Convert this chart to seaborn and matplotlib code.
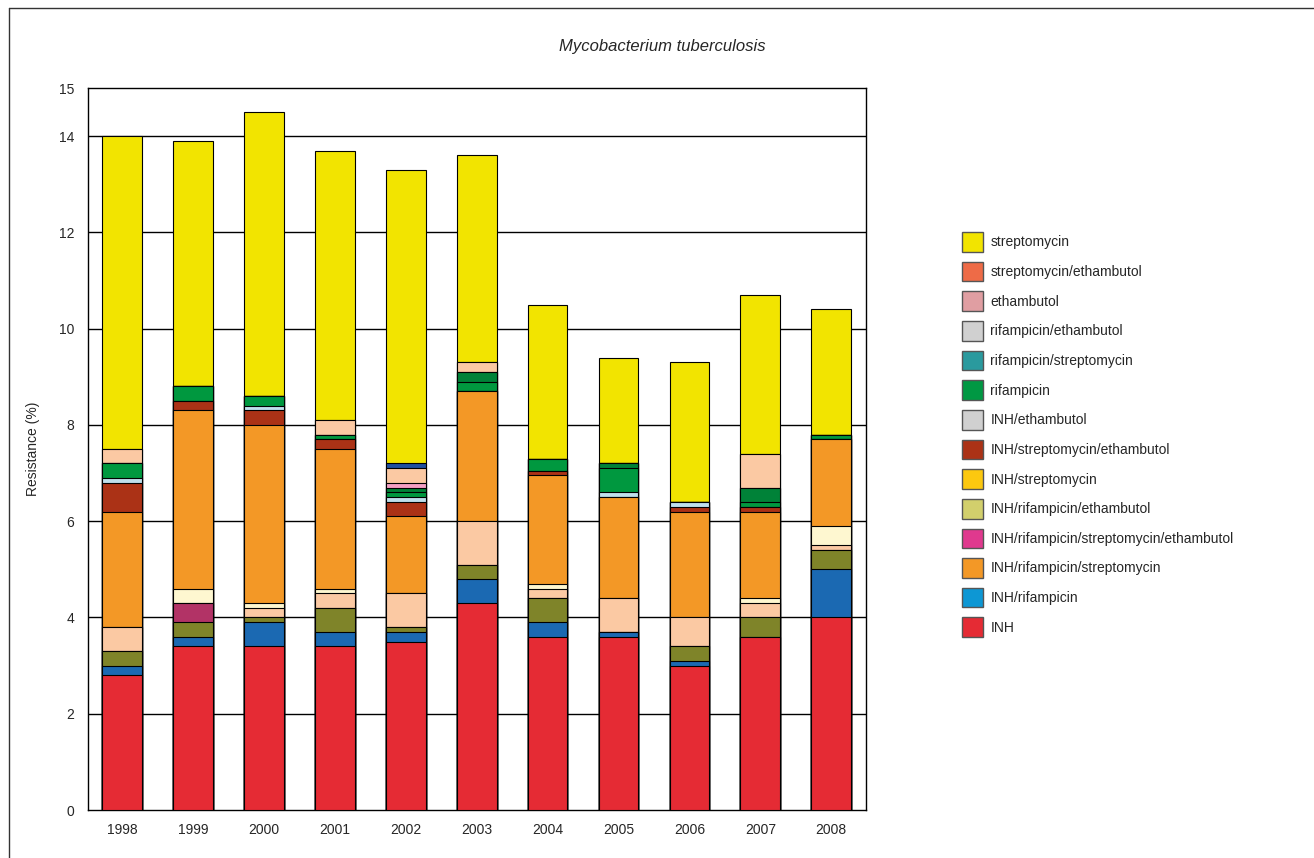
import matplotlib
matplotlib.use("Agg")
import matplotlib.pyplot as plt
from matplotlib.patches import Patch
from matplotlib.lines import Line2D
import seaborn as sns
import pandas as pd
import numpy as np

# years on the x axis
years = ["1998", "1999", "2000", "2001", "2002", "2003", "2004", "2005", "2006", "2007", "2008"]

# segment heights (%), bottom of the stack first
red        = [2.8, 3.4, 3.4, 3.4, 3.5, 4.3, 3.6, 3.6, 3.0, 3.6, 4.0]
blue       = [0.2, 0.2, 0.5, 0.3, 0.2, 0.5, 0.3, 0.1, 0.1, 0.0, 1.0]
olive      = [0.3, 0.3, 0.1, 0.5, 0.1, 0.3, 0.5, 0.0, 0.3, 0.4, 0.4]
magenta    = [0.0, 0.4, 0.0, 0.0, 0.0, 0.0, 0.0, 0.0, 0.0, 0.0, 0.0]
peach_lo   = [0.5, 0.0, 0.2, 0.3, 0.7, 0.9, 0.2, 0.7, 0.6, 0.3, 0.1]
cream      = [0.0, 0.3, 0.1, 0.1, 0.0, 0.0, 0.1, 0.0, 0.0, 0.1, 0.4]
orange     = [2.4, 3.7, 3.7, 2.9, 1.6, 2.7, 2.25, 2.1, 2.2, 1.8, 1.8]
darkred    = [0.6, 0.2, 0.3, 0.2, 0.3, 0.0, 0.1, 0.0, 0.1, 0.1, 0.0]
lightblue  = [0.1, 0.0, 0.1, 0.0, 0.1, 0.0, 0.0, 0.1, 0.1, 0.0, 0.0]
green      = [0.3, 0.3, 0.2, 0.1, 0.1, 0.2, 0.25, 0.5, 0.0, 0.1, 0.1]
darkgreen  = [0.0, 0.0, 0.0, 0.0, 0.1, 0.2, 0.0, 0.1, 0.0, 0.3, 0.0]
pink       = [0.0, 0.0, 0.0, 0.0, 0.1, 0.0, 0.0, 0.0, 0.0, 0.0, 0.0]
peach_hi   = [0.3, 0.0, 0.0, 0.3, 0.3, 0.2, 0.0, 0.0, 0.0, 0.7, 0.0]
navy       = [0.0, 0.0, 0.0, 0.0, 0.1, 0.0, 0.0, 0.0, 0.0, 0.0, 0.0]
yellow     = [6.5, 5.1, 5.9, 5.6, 6.1, 4.3, 3.2, 2.2, 2.9, 3.3, 2.6]

segments = [red, blue, olive, magenta, peach_lo, cream, orange, darkred,
            lightblue, green, darkgreen, pink, peach_hi, navy, yellow]
seg_colors = ["#e52b34", "#1b69b2", "#7f8429", "#b23366", "#fbc9a3", "#fef7d0",
              "#f39826", "#ab3216", "#bfe0ec", "#00983f", "#008238", "#f4a0c4",
              "#fbc9a3", "#21509e", "#f2e400"]

# legend entries as printed on the chart (top to bottom)
legend_labels = ["streptomycin", "streptomycin/ethambutol", "ethambutol",
                 "rifampicin/ethambutol", "rifampicin/streptomycin", "rifampicin",
                 "INH/ethambutol", "INH/streptomycin/ethambutol", "INH/streptomycin",
                 "INH/rifampicin/ethambutol", "INH/rifampicin/streptomycin/ethambutol",
                 "INH/rifampicin/streptomycin", "INH/rifampicin", "INH"]
legend_colors = ["#f2e400", "#ee6b47", "#e09ea2", "#d0d0d0", "#2a9a9e", "#009843",
                 "#d0d0d0", "#ab3216", "#fcc80f", "#d2cf6c", "#e0398e", "#f39826",
                 "#0d97d4", "#e52b34"]

sns.set_style("white")
plt.rcParams["font.family"] = ["Liberation Sans", "DejaVu Sans"]

fig = plt.figure(figsize=(13.14, 8.58), dpi=100)
ax = fig.add_axes([88 / 1314, 1 - 810 / 858, 778 / 1314, 722 / 858])

# cumulative tops, drawn from the top of the stack down so each bar covers the one above
cum = np.cumsum(np.array(segments), axis=0)
df = pd.DataFrame({"year": years})
for i in range(len(segments) - 1, -1, -1):
    df["top"] = cum[i]
    sns.barplot(data=df, x="year", y="top", color=seg_colors[i], saturation=1,
                width=0.56, edgecolor="black", linewidth=0.8, errorbar=None,
                ax=ax, zorder=3)

for yv in [2, 4, 6, 8, 10, 12, 14]:
    ax.axhline(yv, color="black", linewidth=1.0, zorder=1)

ax.set_ylim(0, 15)
ax.set_xlim(-0.48, 10.49)
ax.set_yticks([0, 2, 4, 6, 8, 10, 12, 14, 15])
ax.tick_params(axis="y", length=0, pad=10, labelsize=10)
ax.tick_params(axis="x", length=0, pad=9, labelsize=10)
ax.set_xlabel("")
ax.set_ylabel("Resistance (%)", fontsize=10)
ax.yaxis.set_label_coords(-0.062, 0.5)
for sp in ax.spines.values():
    sp.set_color("black")
    sp.set_linewidth(1.0)
    sp.set_visible(True)

fig.text(662 / 1314, 1 - 47 / 858, "Mycobacterium tuberculosis", fontsize=12,
         style="italic", ha="center", va="center")

handles = [Patch(facecolor=c, edgecolor="#555555", linewidth=1) for c in legend_colors]
fig.legend(handles, legend_labels, loc="upper left",
           bbox_to_anchor=(962 / 1314, 1 - 232 / 858), frameon=False,
           fontsize=10, handlelength=1.5, handleheight=1.8,
           labelspacing=0.72, handletextpad=0.55, borderpad=0, borderaxespad=0)

# outer frame (only left and top edge show)
fig.add_artist(Line2D([8.5 / 1314, 8.5 / 1314], [0, 1 - 7.5 / 858], color="#333333",
                      linewidth=1, transform=fig.transFigure))
fig.add_artist(Line2D([8.5 / 1314, 1], [1 - 7.5 / 858, 1 - 7.5 / 858], color="#333333",
                      linewidth=1, transform=fig.transFigure))

fig.savefig("out.png", dpi=100)
